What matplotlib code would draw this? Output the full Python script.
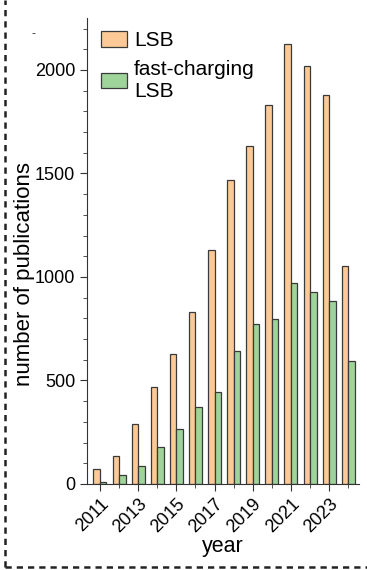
import numpy as np
import matplotlib.pyplot as plt
from matplotlib.lines import Line2D

plt.rcParams['font.family'] = ['Liberation Sans', 'DejaVu Sans']

#data
years = list(range(2011, 2025))
lsb = [72, 135, 289, 467, 627, 829, 1128, 1470, 1634, 1831, 2125, 2019, 1880, 1051]
fast = [10, 43, 87, 178, 265, 371, 443, 641, 771, 795, 969, 925, 882, 593]

fig = plt.figure(figsize=(3.67, 5.70), dpi=100)
ax = fig.add_axes([0.237, 0.151, 0.741, 0.817])

x = np.arange(len(years))
w = 0.34
ax.bar(x - w/2, lsb, w, color='#FDC996', edgecolor='#3a3a3a', linewidth=0.9, label='LSB')
ax.bar(x + w/2, fast, w, color='#9ED39A', edgecolor='#3a3a3a', linewidth=0.9, label='fast-charging\nLSB')

ax.set_xlim(-0.68, 13.56)
ax.set_ylim(0, 2250)
ax.set_yticks([0, 500, 1000, 1500, 2000])
ax.set_yticks(np.arange(0, 2250, 100), minor=True)
ax.set_xticks(x[::2])
ax.set_xticklabels([str(y) for y in years[::2]], rotation=45, ha='right', rotation_mode='anchor')
ax.set_xticks(x[1::2], minor=True)

for s in ['top', 'right']:
    ax.spines[s].set_visible(False)
ax.spines['left'].set_color('#333333')
ax.spines['bottom'].set_color('#333333')
ax.tick_params(axis='both', which='major', labelsize=13, length=5, color='#333333')
ax.tick_params(axis='both', which='minor', length=3, color='#333333')

ax.set_xlabel('year', fontsize=15.5, labelpad=0)
ax.set_ylabel('number of publications', fontsize=16)
ax.yaxis.set_label_coords(-0.19, 0.45)

ax.legend(loc='upper left', frameon=False, fontsize=15, handlelength=1.25, handleheight=0.75,
          handletextpad=0.35, labelspacing=0.45, borderaxespad=0.0, bbox_to_anchor=(0.02, 0.99))

# dashed frame pieces and stray mark from the source image
fig.add_artist(Line2D([0.014, 0.014], [0.005, 1.0], transform=fig.transFigure,
                      color='#222222', linestyle=(0, (2.5, 2)), linewidth=1.8))
fig.add_artist(Line2D([0.014, 1.0], [0.006, 0.006], transform=fig.transFigure,
                      color='#222222', linestyle=(0, (2.5, 2)), linewidth=1.8))
fig.text(0.087, 0.935, '-', fontsize=9, color='#333333')

fig.savefig('out.png', dpi=100)
